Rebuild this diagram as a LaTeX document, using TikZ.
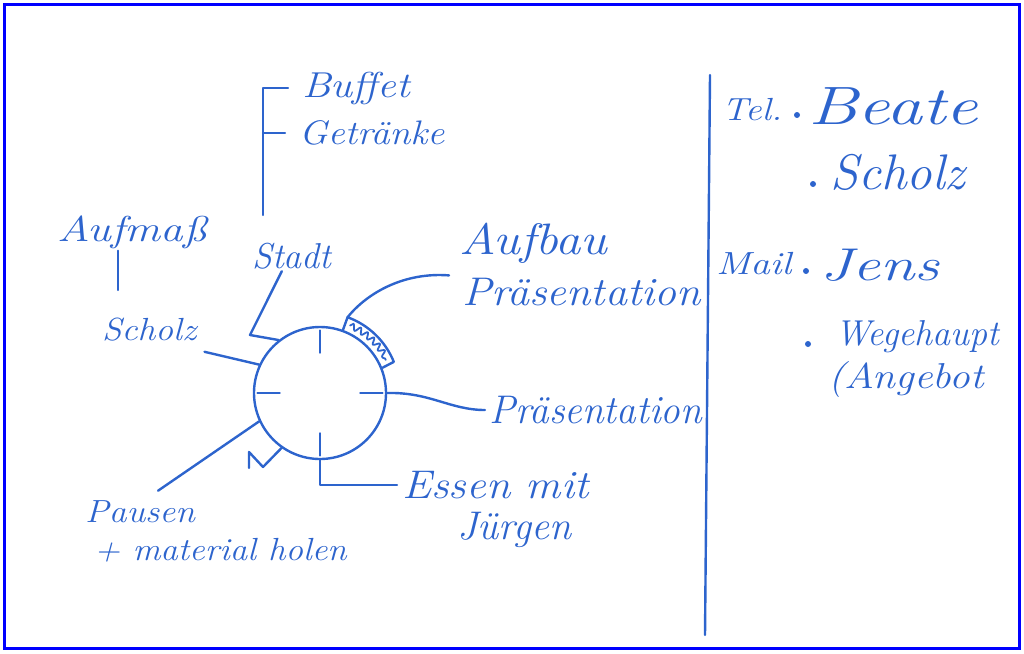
\documentclass[tikz,border=0pt]{standalone}
\usepackage{tikz}
\usepackage{graphicx}
\usetikzlibrary{calc,decorations.pathmorphing}

\definecolor{ink}{RGB}{45,100,205}
\definecolor{rahmen}{RGB}{0,0,255}
% Schriftgroesse und Breite der Handschrift
\newcommand{\schrift}[3]{\scalebox{#2}[1]{\fontsize{#1}{#1}\selectfont\itshape #3}}

\tikzset{
  hand/.style={text=ink, inner sep=1pt, anchor=west},
  punkt/.style={circle, fill=ink, inner sep=0pt, minimum size=6pt}
}

\begin{document}
\begin{tikzpicture}[x=1pt,y=-1pt]
    \useasboundingbox (0,0) rectangle (1024,653);
    \draw [rahmen, line width=3pt] (4.5,4.5) rectangle (1019.5,648.5);

    \begin{scope}[ink, line width=2.4pt, line cap=round, line join=round]

    % die Uhr
    \node [draw, circle, minimum size=132pt, inner sep=0pt] (uhr) at (320,393) {};
    \foreach \a in {90,0,270,180}{%
        \draw ($(uhr.center)!0.6!(uhr.\a)$) -- ($(uhr.center)!0.93!(uhr.\a)$);}

    % Texte links
    \node [hand] (buffet)    at (300,88)  {\schrift{36}{1.16}{Buffet}};
    \node [hand] (getraenke) at (297,133) {\schrift{34}{1.11}{Getränke}};
    \node [hand] (aufmass)   at (55,232)  {\schrift{36}{1.25}{Aufmaß}};
    \node [hand] (stadt)     at (250,256) {\schrift{36}{1.0}{Stadt}};
    \node [hand] (scholzL)   at (100,330) {\schrift{32}{1.11}{Scholz}};
    \node [hand] (aufbau)    at (457,243) {\schrift{44}{1.15}{Aufbau}};
    \node [hand] (praesA)    at (460,292) {\schrift{40}{1.1}{Präsentation}};
    \node [hand] (praesB)    at (487,410) {\schrift{40}{0.98}{Präsentation}};
    \node [hand] (essen)     at (400,485) {\schrift{40}{1.1}{Essen mit}};
    \node [hand] (juergen)   at (455,530) {\schrift{40}{1.0}{Jürgen}};
    \node [hand] (pausen)    at (83,512)  {\schrift{32}{1.11}{Pausen}};
    \node [hand] (material)  at (92,550)  {\schrift{32}{1.09}{+ material holen}};

    % Verbindungen
    \coordinate (klammer)  at (263,215);
    \coordinate (aufmassE) at (118,290);
    \coordinate (knick)    at (250,335);
    \draw ([xshift=-12pt]buffet.west) -| (klammer);
    \draw ([xshift=-12pt]getraenke.west) -- (getraenke.west -| klammer);
    \draw (aufmass.south -| aufmassE) -- (aufmassE);
    \draw ([xshift=-10pt]stadt.south) -- (knick) -- (uhr.128);
    \draw ([xshift=6pt,yshift=-8pt]scholzL.south east) -- (uhr.155);
    \draw (uhr.east) .. controls (430,392) and (450,410) .. ([xshift=-2pt]praesB.west);
    \draw (uhr.south) |- ([xshift=-3pt]essen.west);
    \draw (uhr.205) -- ([xshift=18pt,yshift=8pt]pausen.north);

    % Aufbau mit Zeitraum
    \draw ([xshift=-8pt,yshift=-10pt]aufbau.south west) .. controls (405,272) and (368,292)
          .. ($(uhr.center)!1.2!(uhr.70)$);
    \draw (uhr.70) -- ($(uhr.center)!1.2!(uhr.70)$)
          arc [start angle=-70, end angle=-22, radius=79]
          -- (uhr.22);
    \draw [line width=1.8pt, decorate, decoration={snake, amplitude=3pt, segment length=8pt}]
          ($(uhr.center)!1.1!(uhr.66)$) arc [start angle=-66, end angle=-26, radius=72.5];

    % Zeichen unten links
    \draw (249,468) -- (249,452) -- (263,467) -- (uhr.235);

    % Notizen rechts
    \coordinate (strichO) at (710,75);
    \coordinate (strichU) at (705,635);
    \draw (strichO) -- (strichU);

    \node [hand] (tel)     at (720,110) {\schrift{32}{1.15}{Tel.}};
    \node [punkt] (p1) at (797,115) {};
    \node [hand] (beate)   at (806,106) {\schrift{54}{1.33}{Beate}};
    \node [punkt] (p2) at (813,184) {};
    \node [hand] (scholzR) at (828,172) {\schrift{50}{1.02}{Scholz}};
    \node [hand] (mail)    at (714,264) {\schrift{32}{1.22}{Mail}};
    \node [punkt] (p3) at (806,271) {};
    \node [hand] (jens)    at (818,265) {\schrift{46}{1.35}{Jens}};
    \node [punkt] (p4) at (808,344) {};
    \node [hand] (wege)    at (833,337) {\schrift{36}{1.0}{Wegehaupt}};
    \node [hand] (angebot) at (826,380) {\schrift{36}{1.15}{(Angebot}};

    \end{scope}
\end{tikzpicture}
\end{document}
